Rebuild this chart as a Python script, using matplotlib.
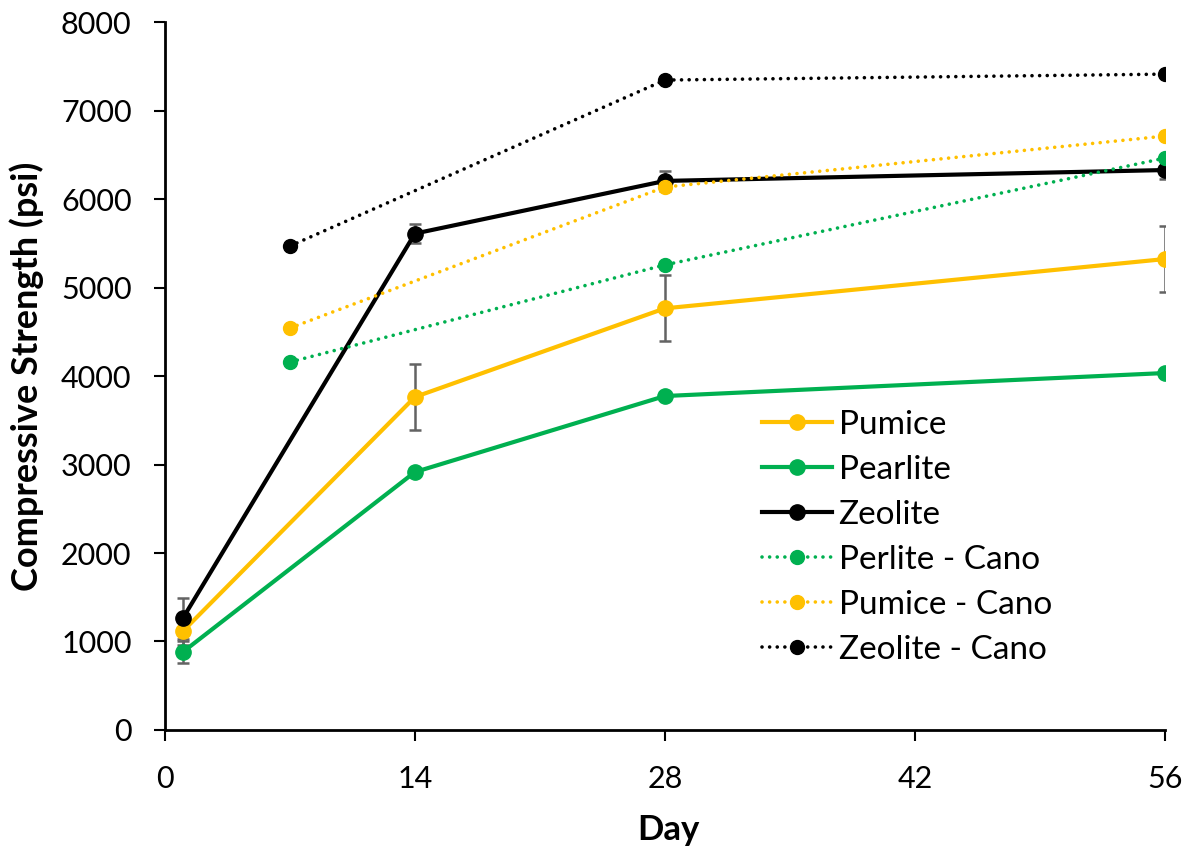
import matplotlib
matplotlib.use("Agg")
import matplotlib.pyplot as plt

plt.rcParams['font.family'] = ['Lato', 'DejaVu Sans']

# Measured series (day, compressive strength in psi)
days_main = [1, 14, 28, 56]
pumice = [1115, 3763, 4765, 5322]
pumice_err = [150, 373, 373, 373]
pearlite = [881, 2915, 3774, 4034]
pearlite_err = [125, 40, 40, 40]
zeolite = [1262, 5610, 6205, 6328]
zeolite_err = [230, 110, 110, 105]

# Reference series from Cano
days_cano = [7, 28, 56]
perlite_cano = [4158, 5256, 6463]
pumice_cano = [4542, 6136, 6712]
zeolite_cano = [5469, 7345, 7412]

x_ticks = [0, 14, 28, 42, 56]
y_ticks = list(range(0, 8001, 1000))

ORANGE = '#FFC000'
GREEN = '#00B050'
BLACK = '#000000'
ERR = '#636363'

fig = plt.figure(figsize=(11.91, 8.5), dpi=100)
ax = fig.add_axes([0.1385, 0.1412, 0.8395, 0.8328])

# error bars drawn first so they sit beneath the markers
for y, e in [(pearlite, pearlite_err), (pumice, pumice_err), (zeolite, zeolite_err)]:
    ax.errorbar(days_main, y, yerr=e, fmt='none', ecolor=ERR, elinewidth=1.8,
                capsize=4.5, capthick=1.8, zorder=2)

ax.plot(days_main, pearlite, '-o', color=GREEN, lw=3, ms=11, label='Pearlite', zorder=3)
ax.plot(days_main, pumice, '-o', color=ORANGE, lw=3, ms=11, label='Pumice', zorder=3)
ax.plot(days_main, zeolite, '-o', color=BLACK, lw=3, ms=11, label='Zeolite', zorder=3)

# round dotted lines for the Cano series
dot = (0, (0.01, 2.1))
for yv, c, lab in [(perlite_cano, GREEN, 'Perlite - Cano'),
                   (pumice_cano, ORANGE, 'Pumice - Cano'),
                   (zeolite_cano, BLACK, 'Zeolite - Cano')]:
    ax.plot(days_cano, yv, marker='o', ls=dot, color=c, lw=2.6, ms=10,
            dash_capstyle='round', solid_capstyle='round', label=lab, zorder=4)

ax.set_xlim(0, 56)
ax.set_ylim(0, 8000)
ax.set_xticks(x_ticks)
ax.set_yticks(y_ticks)
ax.tick_params(axis='both', labelsize=22, length=8, width=1.5, direction='out')
ax.tick_params(axis='x', pad=17)
ax.tick_params(axis='y', pad=16)
for s in ['top', 'right']:
    ax.spines[s].set_visible(False)
for s in ['left', 'bottom']:
    ax.spines[s].set_linewidth(2)

ax.set_xlabel('Day', fontsize=25, fontweight='bold')
ax.set_ylabel('Compressive Strength (psi)', fontsize=26, fontweight='bold')
ax.xaxis.set_label_coords(0.504, -0.118)
ax.yaxis.set_label_coords(-0.121, 0.499)

handles, labels = ax.get_legend_handles_labels()
order = ['Pumice', 'Pearlite', 'Zeolite', 'Perlite - Cano', 'Pumice - Cano', 'Zeolite - Cano']
hmap = dict(zip(labels, handles))
ax.legend([hmap[k] for k in order], order, loc='upper left',
          bbox_to_anchor=(0.597, 0.452), frameon=False, fontsize=24,
          handlelength=2.1, handletextpad=0.2, labelspacing=0.45, borderaxespad=0,
          borderpad=0)

fig.savefig('out.png', dpi=100)
